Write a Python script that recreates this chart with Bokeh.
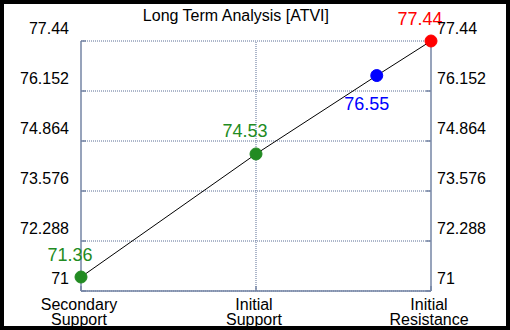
import math
from bokeh.plotting import figure
from bokeh.models import Range1d, Label, ColumnDataSource
from bokeh.core.properties import value
from bokeh.embed import file_html
from bokeh.resources import INLINE

# ---- data ----
title_text = "Long Term Analysis [ATVI]"
category_pos = [0, 1, 2]
category_labels = ["Secondary\nSupport", "Initial\nSupport", "Initial\nResistance"]
point_x = [0, 1, 1.69, 2]
point_y = [71.36, 74.53, 76.55, 77.44]
point_text = ["71.36", "74.53", "76.55", "77.44"]
point_colors = ["#228B22", "#228B22", "#0000FF", "#FF0000"]
y_ticks = [71, 72.288, 73.576, 74.864, 76.152, 77.44]
y_tick_labels = ["71", "72.288", "73.576", "74.864", "76.152", "77.44"]

# ---- layout / styles ----
W, H = 510, 330
PX_L, PX_R, PX_T, PX_B = 80.5, 430.5, 40.5, 290.5   # pixel box of the data area
FONT = "Liberation Sans"
AXIS_C = "#7585a5"
GRID_C = "#5b6e96"
label_dx = [-11, -11, -10, -11]
label_dy = [-23, -23, 28, -23]

xmin, xmax = category_pos[0], category_pos[-1]
ymin, ymax = y_ticks[0], y_ticks[-1]
sx = (PX_R - PX_L) / (xmax - xmin)
sy = (PX_B - PX_T) / (ymax - ymin)

p = figure(width=W, height=H,
           x_range=Range1d(xmin - PX_L / sx, xmax + (W - PX_R) / sx),
           y_range=Range1d(ymin - (H - PX_B) / sy, ymax + PX_T / sy),
           x_axis_location=None, y_axis_location=None,
           min_border=0, output_backend="svg", toolbar_location=None,
           background_fill_color="white", border_fill_color="white")
p.grid.visible = False
p.outline_line_color = "black"
p.outline_line_width = 7

n = len(y_ticks)
# horizontal dotted grid
p.segment(x0=[xmin] * n, y0=y_ticks, x1=[xmax] * n, y1=y_ticks,
          line_color=GRID_C, line_dash="1 1", line_width=1)
# vertical dotted grid at inner categories
inner = category_pos[1:-1]
p.segment(x0=inner, y0=[ymin] * len(inner), x1=inner, y1=[ymax] * len(inner),
          line_color=GRID_C, line_dash="1 1", line_width=1)
# axis lines (left, right, bottom)
p.segment(x0=[xmin, xmax, xmin], y0=[ymin, ymin, ymin],
          x1=[xmin, xmax, xmax], y1=[ymax, ymax, ymin],
          line_color=AXIS_C, line_width=1.5)
# inward tick marks
p.ray(x=[xmin] * n, y=y_ticks, length=5, angle=0, length_units="screen",
      line_color=AXIS_C, line_width=1.5)
p.ray(x=[xmax] * n, y=y_ticks, length=5, angle=math.pi, length_units="screen",
      line_color=AXIS_C, line_width=1.5)
p.ray(x=category_pos, y=[ymin] * len(category_pos), length=5, angle=math.pi / 2,
      length_units="screen", line_color=AXIS_C, line_width=1.5)

# line & points
src = ColumnDataSource(dict(x=point_x, y=point_y, t=point_text, c=point_colors,
                            dx=label_dx, dy=label_dy))
p.line("x", "y", source=src, line_color="black", line_width=1)
p.scatter("x", "y", source=src, size=12, color="c")
p.text("x", "y", text="t", source=src, x_offset="dx", y_offset="dy",
       text_align="center", text_baseline="middle", text_color="c",
       text_font=value(FONT), text_font_size="18px")

# y tick labels on both sides
tick_src = ColumnDataSource(dict(y=y_ticks, t=y_tick_labels,
                                 xl=[xmin] * n, xr=[xmax] * n))
p.text("xl", "y", text="t", source=tick_src, x_offset=-12, y_offset=-13,
       text_align="right", text_baseline="middle", text_color="black",
       text_font=value(FONT), text_font_size="16px")
p.text("xr", "y", text="t", source=tick_src, x_offset=6, y_offset=-13,
       text_align="left", text_baseline="middle", text_color="black",
       text_font=value(FONT), text_font_size="16px")

# category labels
cat_src = ColumnDataSource(dict(x=category_pos, y=[ymin] * len(category_pos),
                                t=category_labels))
p.text("x", "y", text="t", source=cat_src, x_offset=-2, y_offset=21,
       text_align="center", text_baseline="middle", text_line_height=0.94,
       text_color="black", text_font=value(FONT), text_font_size="16px")

# title
p.add_layout(Label(x=236, x_units="screen", y=H - 15, y_units="screen",
                   text=title_text, text_align="center", text_baseline="alphabetic",
                   text_font=FONT, text_font_size="16px", text_color="black"))

open("out.html", "w").write(file_html(p, INLINE))
